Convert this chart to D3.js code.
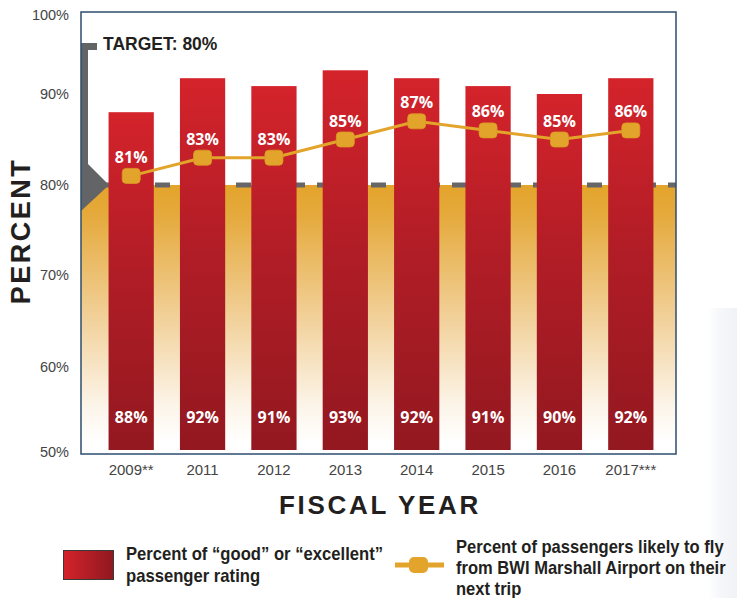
<!DOCTYPE html>
<html>
<head>
<meta charset="utf-8">
<script src="https://cdn.jsdelivr.net/npm/d3@7"></script>
<style>
  body { margin: 0; background: #fff; }
  svg { display: block; }
</style>
</head>
<body>
<svg id="chart" width="737" height="598"></svg>
<script>
var years = ["2009**", "2011", "2012", "2013", "2014", "2015", "2016", "2017***"];
var ratingValues = [88, 92, 91, 93, 92, 91, 90, 92];
var likelyValues = [81, 83, 83, 85, 87, 86, 85, 86];
var yTicks = [50, 60, 70, 80, 90, 100];
var targetValue = 80;

var svg = d3.select("#chart");
var plain = "'Liberation Sans', Arial, sans-serif";
var gold = "#e3a42b";

var plot = { left: 81, right: 676, top: 12, bottom: 454 };

// tick spacing in the original is uneven, so the scale follows it piece by piece
var y = d3.scaleLinear()
    .domain(yTicks)
    .range([452, 367, 275, 185, 94, 15]);

var x = d3.scaleBand()
    .domain(years)
    .range([95.5, 666.5])
    .paddingInner(0.366)
    .paddingOuter(0.183);

var defs = svg.append("defs");

var barGrad = defs.append("linearGradient")
    .attr("id", "barGrad")
    .attr("x1", 0).attr("y1", 0).attr("x2", 0).attr("y2", 1);
barGrad.append("stop").attr("offset", "0%").attr("stop-color", "#d4232b");
barGrad.append("stop").attr("offset", "45%").attr("stop-color", "#b21d26");
barGrad.append("stop").attr("offset", "100%").attr("stop-color", "#931820");

var bandGrad = defs.append("linearGradient")
    .attr("id", "bandGrad")
    .attr("gradientUnits", "userSpaceOnUse")
    .attr("x1", 0).attr("y1", y(targetValue)).attr("x2", 0).attr("y2", y(51));
bandGrad.append("stop").attr("offset", "0%").attr("stop-color", gold);
bandGrad.append("stop").attr("offset", "12%").attr("stop-color", "#e5aa3d");
bandGrad.append("stop").attr("offset", "50%").attr("stop-color", "#f1cf96");
bandGrad.append("stop").attr("offset", "85%").attr("stop-color", "#fcf4e8");
bandGrad.append("stop").attr("offset", "100%").attr("stop-color", "#ffffff");

var legendGrad = defs.append("linearGradient")
    .attr("id", "legendGrad")
    .attr("x1", 0).attr("y1", 0).attr("x2", 1).attr("y2", 0);
legendGrad.append("stop").attr("offset", "0%").attr("stop-color", "#d4232b");
legendGrad.append("stop").attr("offset", "100%").attr("stop-color", "#8f1820");

var bgGrad = defs.append("linearGradient")
    .attr("id", "bgGrad")
    .attr("x1", 0).attr("y1", 0).attr("x2", 1).attr("y2", 0);
bgGrad.append("stop").attr("offset", "0%").attr("stop-color", "#ffffff");
bgGrad.append("stop").attr("offset", "40%").attr("stop-color", "#f6f7fa");
bgGrad.append("stop").attr("offset", "100%").attr("stop-color", "#f1f2f6");

// faint photo edge on the right
svg.append("rect")
    .attr("x", 708).attr("y", 308)
    .attr("width", 29).attr("height", 290)
    .attr("fill", "url(#bgGrad)");

// gold band under the target
svg.append("rect")
    .attr("x", plot.left)
    .attr("y", y(targetValue))
    .attr("width", plot.right - plot.left)
    .attr("height", plot.bottom - y(targetValue))
    .attr("fill", "url(#bandGrad)");

// dashed target line
svg.append("line")
    .attr("x1", plot.left + 20).attr("x2", plot.right)
    .attr("y1", y(targetValue)).attr("y2", y(targetValue))
    .attr("stroke", "#666668")
    .attr("stroke-width", 5)
    .attr("stroke-dasharray", "15,12");

// target bracket
var ty = y(targetValue);
svg.append("path")
    .attr("d", "M" + plot.left + ",43 H97 V50 H88 V" + (ty - 21) +
      " L109," + ty + " L" + plot.left + "," + (ty + 26) + " Z")
    .attr("fill", "#636466");

svg.append("text")
    .attr("x", 103).attr("y", 50)
    .attr("font-family", plain)
    .attr("font-weight", "bold")
    .attr("font-size", 17.5)
    .attr("fill", "#231f20")
    .text("TARGET: " + targetValue + "%");

// bars
svg.append("g")
  .selectAll("rect")
  .data(ratingValues)
  .enter().append("rect")
    .attr("x", function(d, i) { return x(years[i]); })
    .attr("y", function(d) { return y(d); })
    .attr("width", x.bandwidth())
    .attr("height", function(d) { return y(50) - 2 - y(d); })
    .attr("fill", "url(#barGrad)");

svg.append("g")
  .selectAll("text")
  .data(ratingValues)
  .enter().append("text")
    .attr("x", function(d, i) { return x(years[i]) + x.bandwidth() / 2; })
    .attr("y", 423)
    .attr("text-anchor", "middle")
    .attr("font-family", "'Open Sans', sans-serif")
    .attr("font-weight", 700)
    .attr("font-size", 16)
    .attr("fill", "#fff")
    .text(function(d) { return d + "%"; });

// line
var line = d3.line()
    .x(function(d, i) { return x(years[i]) + x.bandwidth() / 2; })
    .y(function(d) { return y(d); });

svg.append("path")
    .datum(likelyValues)
    .attr("d", line)
    .attr("fill", "none")
    .attr("stroke", gold)
    .attr("stroke-width", 3);

svg.append("g")
  .selectAll("rect")
  .data(likelyValues)
  .enter().append("rect")
    .attr("x", function(d, i) { return x(years[i]) + x.bandwidth() / 2 - 9; })
    .attr("y", function(d) { return y(d) - 7.5; })
    .attr("width", 18)
    .attr("height", 15)
    .attr("rx", 4)
    .attr("fill", gold)
    .attr("stroke", "#d99a22")
    .attr("stroke-width", 0.8);

svg.append("g")
  .selectAll("text")
  .data(likelyValues)
  .enter().append("text")
    .attr("x", function(d, i) { return x(years[i]) + x.bandwidth() / 2; })
    .attr("y", function(d) { return y(d) - 13; })
    .attr("text-anchor", "middle")
    .attr("font-family", "'Open Sans', sans-serif")
    .attr("font-weight", 700)
    .attr("font-size", 16)
    .attr("fill", "#fff")
    .text(function(d) { return d + "%"; });

// frame
svg.append("rect")
    .attr("x", plot.left).attr("y", plot.top)
    .attr("width", plot.right - plot.left)
    .attr("height", plot.bottom - plot.top)
    .attr("fill", "none")
    .attr("stroke", "#2c4d6e")
    .attr("stroke-width", 1.5);

// y ticks
svg.append("g")
  .selectAll("text")
  .data(yTicks)
  .enter().append("text")
    .attr("x", 69)
    .attr("y", function(d) { return y(d); })
    .attr("dy", "0.35em")
    .attr("text-anchor", "end")
    .attr("font-family", plain)
    .attr("font-size", 14.5)
    .attr("fill", "#444")
    .text(function(d) { return d + "%"; });

// x ticks
svg.append("g")
  .selectAll("text")
  .data(years)
  .enter().append("text")
    .attr("x", function(d) { return x(d) + x.bandwidth() / 2; })
    .attr("y", 475)
    .attr("text-anchor", "middle")
    .attr("font-family", plain)
    .attr("font-size", 15)
    .attr("fill", "#444")
    .text(function(d) { return d; });

// axis titles
svg.append("text")
    .attr("transform", "translate(30,231) rotate(-90)")
    .attr("text-anchor", "middle")
    .attr("font-family", plain)
    .attr("font-weight", "bold")
    .attr("font-size", 27)
    .attr("letter-spacing", 2.5)
    .attr("fill", "#231f20")
    .text("PERCENT");

svg.append("text")
    .attr("x", 380).attr("y", 514)
    .attr("text-anchor", "middle")
    .attr("font-family", plain)
    .attr("font-weight", "bold")
    .attr("font-size", 26)
    .attr("letter-spacing", 2.7)
    .attr("fill", "#231f20")
    .text("FISCAL YEAR");

// legend (condensed type: squeeze horizontally)
svg.append("rect")
    .attr("x", 63.5).attr("y", 550.5)
    .attr("width", 50).attr("height", 29)
    .attr("fill", "url(#legendGrad)")
    .attr("stroke", "#3a3a3a")
    .attr("stroke-width", 1);

var leg1 = ["Percent of \u201cgood\u201d or \u201cexcellent\u201d", "passenger rating"];
svg.append("g")
  .selectAll("text")
  .data(leg1)
  .enter().append("text")
    .attr("transform", function(d, i) { return "translate(126," + (560 + i * 22) + ") scale(0.925,1)"; })
    .attr("font-family", plain)
    .attr("font-weight", "bold")
    .attr("font-size", 18)
    .attr("fill", "#231f20")
    .text(function(d) { return d; });

svg.append("line")
    .attr("x1", 395).attr("x2", 444)
    .attr("y1", 565).attr("y2", 565)
    .attr("stroke", gold)
    .attr("stroke-width", 5);
svg.append("rect")
    .attr("x", 409).attr("y", 557)
    .attr("width", 19).attr("height", 16)
    .attr("rx", 5)
    .attr("fill", gold);

var leg2 = ["Percent of passengers likely to fly", "from BWI Marshall Airport on their", "next trip"];
svg.append("g")
  .selectAll("text")
  .data(leg2)
  .enter().append("text")
    .attr("transform", function(d, i) { return "translate(456," + (553 + i * 21) + ") scale(0.92,1)"; })
    .attr("font-family", plain)
    .attr("font-weight", "bold")
    .attr("font-size", 18)
    .attr("fill", "#231f20")
    .text(function(d) { return d; });
</script>
</body>
</html>
